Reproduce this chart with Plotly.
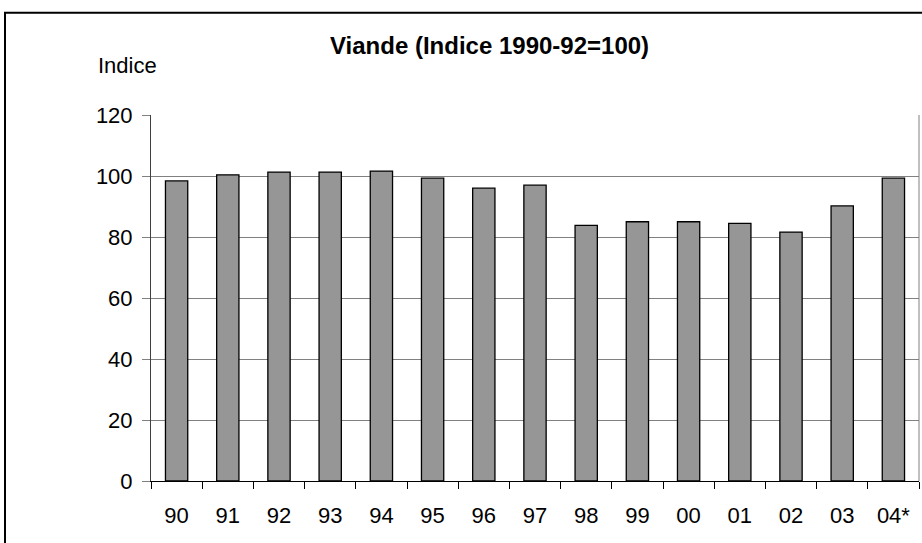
import plotly.graph_objects as go

categories = ["90", "91", "92", "93", "94", "95", "96", "97", "98", "99", "00", "01", "02", "03", "04*"]
values = [98.4, 100.4, 101.3, 101.3, 101.6, 99.3, 96.0, 97.0, 83.8, 85.0, 85.0, 84.5, 81.6, 90.2, 99.3]
y_ticks = [0, 20, 40, 60, 80, 100, 120]
title_text = "Viande (Indice 1990-92=100)"
y_label = "Indice"

W, H = 922, 543
L, R, T, B = 151, 3, 115, 62
pw, ph = W - L - R, H - T - B

def px_x(p):
    return (p - L) / pw

def px_y(p):
    return (H - B - p) / ph

FONT = "Liberation Sans, Arial, sans-serif"

fig = go.Figure()
fig.add_trace(go.Bar(
    x=categories, y=values,
    marker=dict(color="#969696", line=dict(color="#000000", width=1.3)),
    hoverinfo="x+y",
))

fig.update_layout(
    width=W, height=H,
    margin=dict(l=L, r=R, t=T, b=B, pad=0),
    paper_bgcolor="white", plot_bgcolor="white",
    bargap=0.565,
    showlegend=False,
    font=dict(family=FONT, size=22, color="black"),
    xaxis=dict(
        type="category", tickson="boundaries", ticks="outside", ticklen=7,
        tickcolor="black", tickwidth=1, showline=True, linecolor="black", linewidth=1,
        showgrid=False, tickfont=dict(size=22), ticklabelstandoff=15,
    ),
    yaxis=dict(
        range=[0, 120], tickvals=y_ticks, ticks="outside", ticklen=8,
        tickcolor="#808080", tickwidth=1, showline=True, linecolor="#404040", linewidth=1,
        showgrid=True, gridcolor="#808080", gridwidth=1, zeroline=False,
        tickfont=dict(size=22), ticklabelstandoff=5,
    ),
    shapes=[
        dict(type="line", xref="paper", yref="paper", x0=1, x1=1, y0=0, y1=1,
             line=dict(color="#808080", width=1)),
        dict(type="rect", xref="paper", yref="paper",
             x0=px_x(5), x1=px_x(940), y0=px_y(560), y1=px_y(12.7),
             line=dict(color="black", width=2), fillcolor="rgba(0,0,0,0)"),
    ],
    annotations=[
        dict(text="<b>" + title_text + "</b>", xref="paper", yref="paper",
             x=px_x(489), y=px_y(46), xanchor="center", yanchor="middle",
             showarrow=False, font=dict(size=24, family=FONT)),
        dict(text=y_label, xref="paper", yref="paper",
             x=px_x(96), y=px_y(66), xanchor="left", yanchor="middle",
             showarrow=False, font=dict(size=22, family=FONT)),
    ],
)

fig.write_html(
    "out.html",
    config={"displayModeBar": False},
    post_script="document.body.style.margin='0';document.body.style.overflow='hidden';",
)
